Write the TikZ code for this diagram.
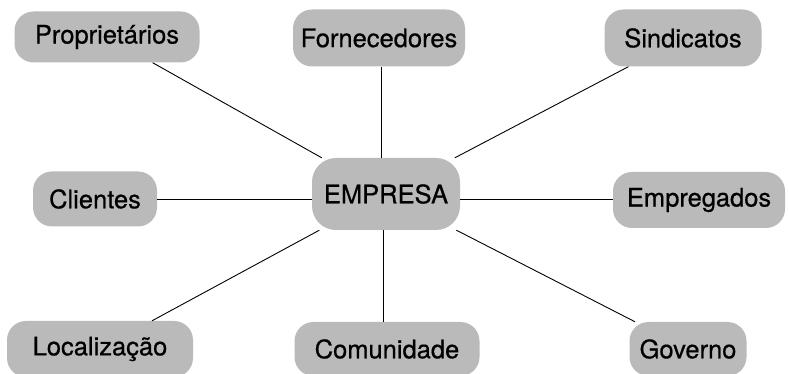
\documentclass[tikz,border=0pt]{standalone}
\usepackage{fontspec}
\setmainfont{TeX Gyre Heros}[FakeBold=0.6]
\begin{document}
\begin{tikzpicture}[x=1pt,y=-1pt,
  box/.style={fill=black!27, rounded corners=19pt, inner sep=0pt, font=\fontsize{25.5}{29}\selectfont, text=black},
  link/.style={line width=0.9pt, black}]
\useasboundingbox (0,0) rectangle (788,374);
\node[box, minimum width=185pt, minimum height=51pt] (prop) at (107,37) {Proprietários};
\node[box, minimum width=172pt, minimum height=57pt] (forn) at (379,38) {Fornecedores};
\node[box, minimum width=157pt, minimum height=57pt] (sind) at (683,38) {Sindicatos};
\node[box, minimum width=124pt, minimum height=55pt] (cli) at (95,199) {Clientes};
\node[box, minimum width=148pt, minimum height=72pt, rounded corners=24pt] (emp) at (386,194) {EMPRESA};
\node[box, minimum width=172pt, minimum height=56pt] (empr) at (699,200) {Empregados};
\node[box, minimum width=186pt, minimum height=56pt] (loc) at (100,349) {Localização};
\node[box, minimum width=185pt, minimum height=54pt] (com) at (387,349) {Comunidade};
\node[box, minimum width=117pt, minimum height=54pt] (gov) at (688,349) {Governo};
\draw[link] (prop) -- (emp);
\draw[link] (forn.south -| 381,0) -- (emp.north -| 381,0);
\draw[link] (sind) -- (emp);
\draw[link] (cli.east |- 0,199) -- (emp.west |- 0,199);
\draw[link] (empr.west |- 0,199) -- (emp.east |- 0,199);
\draw[link] (loc) -- (emp);
\draw[link] (com.north -| 383,0) -- (emp.south -| 383,0);
\draw[link] (gov) -- (emp);
\end{tikzpicture}
\end{document}
